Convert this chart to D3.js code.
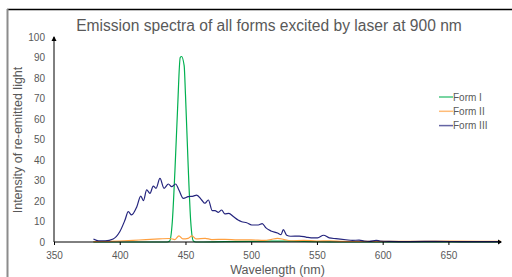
<!DOCTYPE html>
<html>
<head>
<meta charset="utf-8">
<script src="https://cdn.jsdelivr.net/npm/d3@7"></script>
<style>
  body { margin: 0; background: #fff; }
  svg text { font-family: "Liberation Sans", Arial, sans-serif; fill: #595959; }
</style>
</head>
<body>
<div id="chart"></div>
<script>
// data
var seriesNames = ["Form I", "Form II", "Form III"];
var seriesColors = ["#00b050", "#ffa040", "#25257e"];

var formI = [[380,0],[400,0],[420,0],[436,0],[438,0.5],[440,10],[442,35],[444,65],[446,90],[447,90.5],[449,86],
  [450,72],[452,38],[454,10],[456,0.5],[458,0],[480,0.2],[500,0.3],[520,0.4],[540,0.3],[560,0.1],[600,0],[650,0],[690,0]];
var formII = [[380,0.2],[390,0.3],[400,0.5],[410,0.8],[420,1.2],[430,1.5],[438,1.7],[442,1.2],[445,3],[448,1.5],
  [452,1.8],[455,3],[458,1.5],[465,1.8],[470,1.2],[480,1.3],[490,1],[500,1],[510,0.8],[515,1.2],[520,1.8],
  [525,1.2],[530,0.6],[540,0.8],[550,0.5],[560,0.6],[570,0.3],[600,0.3],[650,0.4],[690,0.3]];
var formIII = [[380,1.5],[384,0.6],[389,0.6],[395,1.5],[400,5],[404,10.7],[406.5,14.8],[409,13.2],[413,17.2],
  [416,22.4],[418,20.2],[420.5,25.4],[423,23.7],[425.5,27.3],[427.6,26.2],[430.6,31],[433.7,26.2],[437,28.3],
  [439.5,27],[442.5,28.3],[445,25.4],[448.4,21.3],[452,22.1],[456,22.4],[458.5,22.9],[462.3,20.5],[464.8,18.9],
  [467.4,20.5],[470.4,15.3],[472.5,15.3],[475,14.5],[477.5,15.6],[480,13.7],[483,14],[486.4,12.4],[490,10.7],
  [492.8,9.9],[496.6,9.4],[500.4,8.3],[505.4,8.3],[508.4,9],[511,7],[515,5.4],[520,4.4],[522.7,3.6],[524.4,6],
  [527,3.3],[530,2.8],[536.6,2.9],[541.7,2.4],[545.5,2],[550.5,2],[555,3.3],[559.4,2],[564.5,1.6],[572,1.1],
  [577,0.8],[582,0.9],[586,0.5],[590,0.3],[595,0.8],[598,0.5],[605,0.3],[620,0.2],[640,0.3],[660,0.2],[690,0.2]];
var allSeries = [formI, formII, formIII];

var yTicks = [0,10,20,30,40,50,60,70,80,90,100];
var xTicks = [350,400,450,500,550,600,650];

var W = 512, H = 277;
var margin = {top: 37, right: 11, bottom: 35, left: 54};

var svg = d3.select("#chart").append("svg")
    .attr("width", W)
    .attr("height", H);

// frame of the cropped chart area
svg.append("line").attr("x1", 7).attr("y1", 9.5).attr("x2", W).attr("y2", 9.5)
    .attr("stroke", "#000").attr("stroke-width", 1.5);
svg.append("line").attr("x1", 7.5).attr("y1", 9).attr("x2", 7.5).attr("y2", H)
    .attr("stroke", "#8c8c8c").attr("stroke-width", 2);

var x = d3.scaleLinear().domain([350, 690]).range([margin.left, W - margin.right]);
var y = d3.scaleLinear().domain([0, 100]).range([H - margin.bottom, margin.top]);

// lines
var line = d3.line()
    .x(function(d) { return x(d[0]); })
    .y(function(d) { return y(d[1]); })
    .curve(d3.curveMonotoneX);

allSeries.forEach(function(s, i) {
  svg.append("path")
      .datum(s)
      .attr("d", line)
      .attr("fill", "none")
      .attr("stroke", seriesColors[i])
      .attr("stroke-width", 1.2);
});

// axes
var xAxis = svg.append("g")
    .attr("transform", "translate(0," + y(0) + ")")
    .call(d3.axisBottom(x).tickValues(xTicks).tickSize(3).tickPadding(7));
xAxis.select(".domain").attr("stroke", "#000").attr("d", "M" + x(350) + ",0H" + x(690));
xAxis.selectAll("text").attr("font-size", 10).style("fill", "#595959");

var yAxis = svg.append("g")
    .attr("transform", "translate(" + x(350) + ",0)")
    .call(d3.axisLeft(y).tickValues(yTicks).tickSize(0).tickPadding(9));
yAxis.select(".domain").attr("stroke", "#000").attr("d", "M0," + y(0) + "V" + y(100));
yAxis.selectAll("text").attr("font-size", 10).style("fill", "#595959");

// arrow heads
svg.append("path")
    .attr("d", "M" + (x(350) - 2.5) + "," + (y(100) + 4) + "L" + x(350) + "," + (y(100) - 1) + "L" + (x(350) + 2.5) + "," + (y(100) + 4) + "Z")
    .attr("fill", "#000");
svg.append("path")
    .attr("d", "M" + (x(690) - 3) + "," + (y(0) - 2.5) + "L" + (x(690) + 1) + "," + y(0) + "L" + (x(690) - 3) + "," + (y(0) + 2.5) + "Z")
    .attr("fill", "#000");

// titles
svg.append("text")
    .attr("x", 269).attr("y", 31)
    .attr("text-anchor", "middle")
    .attr("font-size", 15.6)
    .text("Emission spectra of all forms excited by laser at 900 nm");

svg.append("text")
    .attr("x", (x(350) + x(690)) / 2).attr("y", 274)
    .attr("text-anchor", "middle")
    .attr("font-size", 12.5)
    .text("Wavelength (nm)");

svg.append("text")
    .attr("transform", "translate(22," + 140 + ") rotate(-90)")
    .attr("text-anchor", "middle")
    .attr("font-size", 12.5)
    .text("Intensity of re-emitted light");

// legend
var legend = svg.append("g").attr("transform", "translate(439,97)");
seriesNames.forEach(function(name, i) {
  var g = legend.append("g").attr("transform", "translate(0," + (i * 14.3) + ")");
  g.append("line").attr("x1", 0).attr("x2", 14).attr("y1", 0).attr("y2", 0)
      .attr("stroke", seriesColors[i]).attr("stroke-width", 1.5).attr("opacity", 0.7);
  g.append("text").attr("x", 14).attr("y", 3.5).attr("font-size", 10).text(name);
});
</script>
</body>
</html>
